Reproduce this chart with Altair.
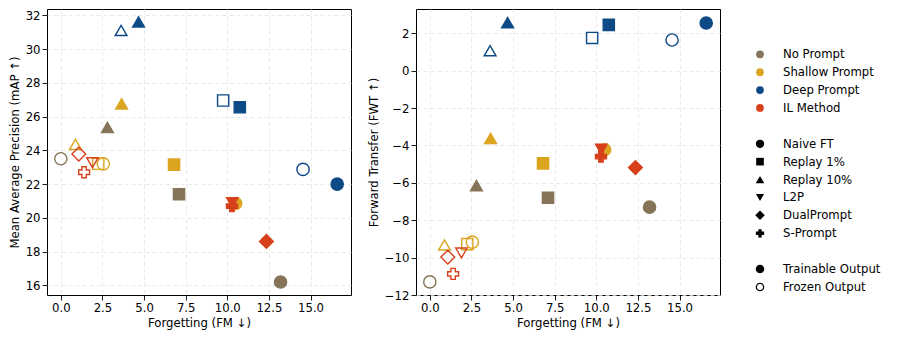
import altair as alt
import pandas as pd

# ---------------- data ----------------
prompt_types = ["No Prompt", "Shallow Prompt", "Deep Prompt", "IL Method"]
prompt_colors = ["#857458", "#DBA520", "#0D4A86", "#D8401C"]
methods = ["Naive FT", "Replay 1%", "Replay 10%", "L2P", "DualPrompt", "S-Prompt"]
method_shapes = ["circle", "square", "triangle-up", "triangle-down", "diamond", "cross"]
method_sizes = [150, 125, 140, 130, 190, 120]
outputs = ["Trainable Output", "Frozen Output"]

pt_prompt = ["No Prompt", "No Prompt", "No Prompt", "No Prompt",
             "Shallow Prompt", "Shallow Prompt", "Shallow Prompt", "Shallow Prompt", "Shallow Prompt", "Shallow Prompt",
             "Deep Prompt", "Deep Prompt", "Deep Prompt", "Deep Prompt", "Deep Prompt", "Deep Prompt",
             "IL Method", "IL Method", "IL Method", "IL Method", "IL Method", "IL Method"]
pt_method = ["Naive FT", "Naive FT", "Replay 1%", "Replay 10%",
             "Naive FT", "Naive FT", "Replay 1%", "Replay 1%", "Replay 10%", "Replay 10%",
             "Naive FT", "Naive FT", "Replay 1%", "Replay 1%", "Replay 10%", "Replay 10%",
             "L2P", "L2P", "DualPrompt", "DualPrompt", "S-Prompt", "S-Prompt"]
pt_output = ["Trainable Output", "Frozen Output", "Trainable Output", "Trainable Output",
             "Trainable Output", "Frozen Output", "Trainable Output", "Frozen Output", "Trainable Output", "Frozen Output",
             "Trainable Output", "Frozen Output", "Trainable Output", "Frozen Output", "Trainable Output", "Frozen Output",
             "Trainable Output", "Frozen Output", "Trainable Output", "Frozen Output", "Trainable Output", "Frozen Output"]
fm = [13.2, 0.0, 7.1, 2.8,
      10.5, 2.55, 6.8, 2.25, 3.65, 0.88,
      16.6, 14.55, 10.75, 9.75, 4.67, 3.62,
      10.3, 1.9, 12.35, 1.08, 10.28, 1.4]
mean_ap = [16.2, 23.5, 21.4, 25.35,
           20.85, 23.2, 23.15, 23.2, 26.75, 24.35,
           22.0, 22.87, 26.55, 26.95, 31.6, 31.1,
           20.9, 23.27, 18.6, 23.78, 20.7, 22.7]
fwt = [-7.3, -11.3, -6.8, -6.15,
       -4.23, -9.17, -4.96, -9.28, -3.63, -9.32,
       2.55, 1.64, 2.45, 1.75, 2.57, 1.07,
       -4.2, -9.75, -5.18, -9.97, -4.6, -10.87]

x_ticks = [0.0, 2.5, 5.0, 7.5, 10.0, 12.5, 15.0]
map_ticks = [16, 18, 20, 22, 24, 26, 28, 30, 32]
fwt_ticks = [-12, -10, -8, -6, -4, -2, 0, 2]

legend_rows = [0, 1, 2, 3, 5, 6, 7, 8, 9, 10, 12, 13]
legend_labels = prompt_types + methods + outputs

df = pd.DataFrame({
    "prompt": pt_prompt, "method": pt_method, "output": pt_output,
    "fm": fm, "map": mean_ap, "fwt": fwt, "idx": list(range(len(fm))),
})

FONT = "DejaVu Sans"
FS = 11.7
color_scale = alt.Scale(domain=prompt_types, range=prompt_colors)
shape_scale = alt.Scale(domain=methods, range=method_shapes)
size_scale = alt.Scale(type="ordinal", domain=methods, range=method_sizes)
grid_dash = [4, 3]


def panel(col, title, domain, ticks):
    return alt.Chart(df).mark_point(filled=False, strokeWidth=1.4, opacity=1).encode(
        x=alt.X("fm:Q", title="Forgetting (FM ↓)",
                scale=alt.Scale(domain=[-0.83, 17.43], nice=False, zero=False),
                axis=alt.Axis(values=x_ticks, format=".1f")),
        y=alt.Y(f"{col}:Q", title=title,
                scale=alt.Scale(domain=domain, nice=False, zero=False),
                axis=alt.Axis(values=ticks, format="d")),
        stroke=alt.Stroke("prompt:N", scale=color_scale, legend=None),
        fill=alt.condition(alt.datum.output == "Trainable Output",
                           alt.Fill("prompt:N", scale=color_scale, legend=None),
                           alt.value("transparent")),
        shape=alt.Shape("method:N", scale=shape_scale, legend=None),
        size=alt.Size("method:N", scale=size_scale, legend=None),
        order=alt.Order("idx:Q"),
    ).properties(width=304, height=286)


left = panel("map", "Mean Average Precision (mAP ↑)", [15.43, 32.37], map_ticks)
right = panel("fwt", "Forward Transfer (FWT ↑)", [-12.0, 3.3], fwt_ticks)

# ---------------- legend panel ----------------
leg = pd.DataFrame({"label": legend_labels, "row": legend_rows,
                    "group": ["color"] * 4 + ["shape"] * 6 + ["output"] * 2})
ly = alt.Y("row:Q", scale=alt.Scale(domain=[-2.53, 13.45], reverse=True), axis=None)
lbase = alt.Chart(leg)
MX = 24

leg_color = lbase.transform_filter(alt.datum.group == "color").mark_point(
    filled=True, shape="circle", size=60, opacity=1).encode(
    x=alt.value(MX), y=ly, color=alt.Color("label:N", scale=color_scale, legend=None))
leg_shape = lbase.transform_filter(alt.datum.group == "shape").mark_point(
    filled=True, color="black", opacity=1).encode(
    x=alt.value(MX), y=ly,
    shape=alt.Shape("label:N", scale=shape_scale, legend=None),
    size=alt.Size("label:N", scale=alt.Scale(type="ordinal", domain=methods,
                                             range=[68, 58, 72, 66, 90, 68]), legend=None))
leg_out = lbase.transform_filter(alt.datum.group == "output").mark_point(
    shape="circle", size=52, strokeWidth=1.3, stroke="black", opacity=1).encode(
    x=alt.value(MX), y=ly,
    fill=alt.condition(alt.datum.label == "Trainable Output", alt.value("black"),
                       alt.value("transparent")))
leg_text = lbase.mark_text(align="left", baseline="middle", fontSize=FS, font=FONT,
                           color="black").encode(
    x=alt.value(MX + 23), y=ly, text="label:N")

legend = alt.layer(leg_color, leg_shape, leg_out, leg_text).properties(
    width=140, height=286, view=alt.ViewBackground(strokeOpacity=0))

chart = alt.hconcat(left, right, legend, spacing=15).resolve_scale(
    size="independent", shape="independent", color="independent",
    fill="independent", stroke="independent"
).properties(
    padding={"left": 0, "top": 0, "right": 0, "bottom": 0}
).configure(font=FONT).configure_view(
    stroke="black", strokeWidth=1
).configure_axis(
    domain=False, tickColor="black", tickSize=5, tickWidth=0.9,
    labelFont=FONT, labelFontSize=FS, labelColor="black", labelPadding=2,
    titleFont=FONT, titleFontSize=FS, titleFontWeight="normal", titleColor="black",
    gridColor="#e3e3e3", gridDash=grid_dash, gridWidth=0.8,
).configure_axisX(titlePadding=4).configure_axisY(titlePadding=5)

chart.save("out.html", embed_options={"renderer": "svg", "actions": False})
